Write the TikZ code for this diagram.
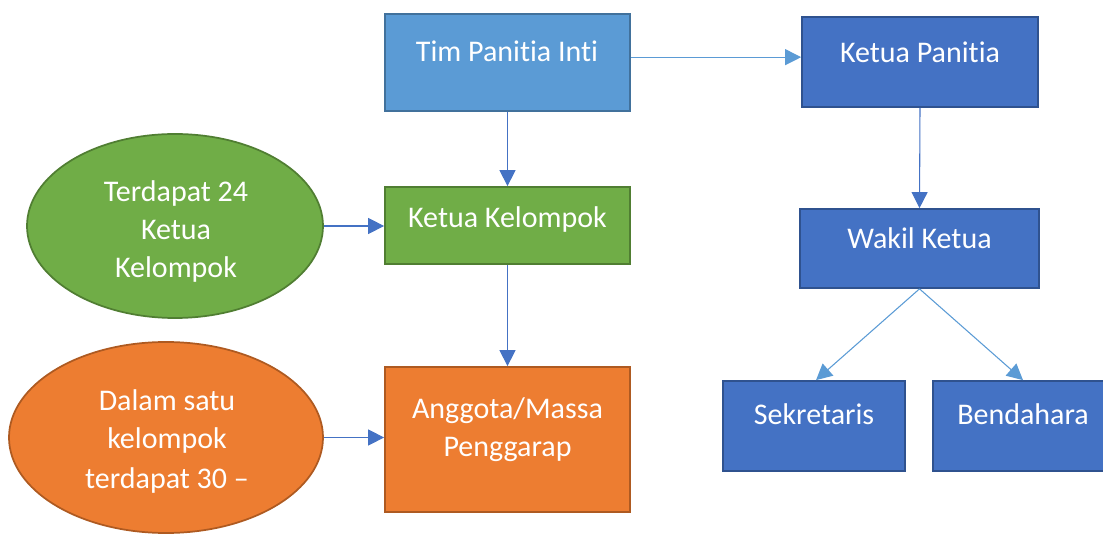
\documentclass[tikz,border=0pt]{standalone}
\usepackage{fontspec}
\setmainfont[Ligatures={NoCommon,NoContextual}]{Carlito}
\usetikzlibrary{arrows.meta,shapes.geometric}
\definecolor{lblue}{HTML}{5B9BD5}
\definecolor{lbluedk}{HTML}{41719C}
\definecolor{dblue}{HTML}{4472C4}
\definecolor{dbluedk}{HTML}{2F528F}
\definecolor{grn}{HTML}{70AD47}
\definecolor{grndk}{HTML}{507E32}
\definecolor{org}{HTML}{ED7D31}
\definecolor{orgdk}{HTML}{AE5A21}
\tikzset{
  box/.style={draw, line width=1.3pt, inner sep=0pt, rectangle},
  oval/.style={draw, line width=1.3pt, inner sep=0pt, ellipse},
  lbl/.style={text=white, anchor=base, inner sep=0pt, font=\fontsize{22.5}{28.5}\selectfont, align=center},
  conn/.style={line width=0.8pt, -{Triangle[length=12pt,width=12pt]}},
}
\begin{document}
\begin{tikzpicture}[x=0.75pt,y=-0.75pt]
\useasboundingbox (0,0) rectangle (1103,534);
\clip (0,0) rectangle (1103,534);
% shapes
\node[box, fill=lblue, draw=lbluedk, minimum width=183.75pt, minimum height=72.75pt] (tim) at (507.5,62.5) {};
\node[box, fill=dblue, draw=dbluedk, minimum width=177pt, minimum height=67.5pt] (kp) at (920,62) {};
\node[box, fill=dblue, draw=dbluedk, minimum width=179.25pt, minimum height=59.25pt] (wk) at (919.5,248.5) {};
\node[box, fill=dblue, draw=dbluedk, minimum width=136.5pt, minimum height=67.5pt] (sek) at (814,426) {};
\node[box, fill=dblue, draw=dbluedk, minimum width=135pt, minimum height=67.5pt] (ben) at (1023,426) {};
\node[box, fill=grn, draw=grndk, minimum width=183.75pt, minimum height=57.75pt] (kk) at (507.5,225.5) {};
\node[box, fill=org, draw=orgdk, minimum width=183.75pt, minimum height=108.75pt] (ang) at (507.5,439.5) {};
\node[oval, fill=grn, draw=grndk, minimum width=222pt, minimum height=138pt] (ge) at (175,226) {};
\node[oval, fill=org, draw=orgdk, minimum width=235.5pt, minimum height=143.25pt] (oe) at (166,437.5) {};
% texts
\node[lbl] (ttim) at (507,62) {Tim Panitia Inti};
\node[lbl] (tkp) at (920,63) {Ketua Panitia};
\node[lbl] (twk) at (919.5,249) {Wakil Ketua};
\node[lbl] (tsek) at (814,425) {Sekretaris};
\node[lbl] (tben) at (1023,425) {Bendahara};
\node[lbl] (tkk) at (507.5,228) {Ketua Kelompok};
\node[lbl] (tang1) at (507.5,418) {Anggota/Massa};
\node[lbl] (tang2) at (507.5,456) {Penggarap};
\node[lbl] (tge1) at (176,202) {Terdapat 24};
\node[lbl] (tge2) at (176,240) {Ketua};
\node[lbl] (tge3) at (176,278) {Kelompok};
\node[lbl] (toe1) at (167,411) {Dalam satu};
\node[lbl] (toe2) at (167,449) {kelompok};
\node[lbl] (toe3) at (167,488) {terdapat 30 –};
% connectors
\draw[conn, lblue] ([yshift=4pt]tim.east) -- ([yshift=4pt]tim.east -| kp.west);
\draw[conn, dblue] (tim.south) -- (kk.north);
\draw[conn, dblue] (kk.south) -- (ang.north);
\draw[conn, dblue] (ge.east) -- (ge.east -| kk.west);
\draw[conn, dblue] (oe.east) -- (oe.east -| ang.west);
\draw[conn, dblue] (kp.south) -- (wk.north);
\draw[conn, lblue] (wk.south) -- ([xshift=1.5pt]sek.north);
\draw[conn, lblue] (wk.south) -- (ben.north);
\end{tikzpicture}
\end{document}
